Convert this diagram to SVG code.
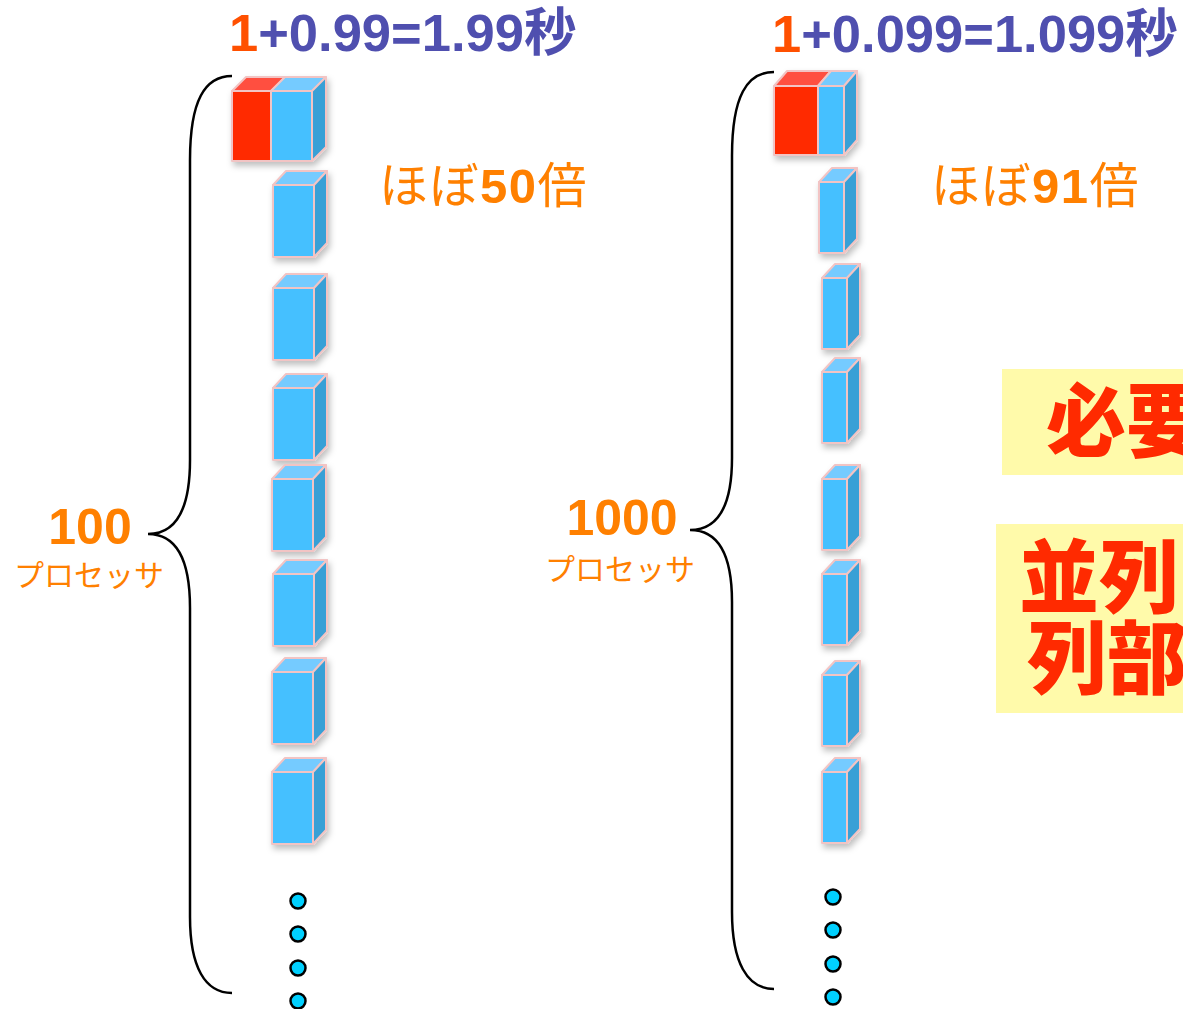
<svg xmlns="http://www.w3.org/2000/svg" width="1183" height="1009" viewBox="0 0 1183 1009">
<defs>
<style>
.bf{fill:#44C0FF;stroke:#F2C4C4;stroke-width:2;stroke-linejoin:round}
.bt{fill:#74CBFF;stroke:#F2C4C4;stroke-width:2;stroke-linejoin:round}
.bs{fill:#38A0D6;stroke:#F2C4C4;stroke-width:2;stroke-linejoin:round}
.rf{fill:#FF2A00;stroke:#F2C4C4;stroke-width:2;stroke-linejoin:round}
.rt{fill:#FF5040;stroke:#F2C4C4;stroke-width:2;stroke-linejoin:round}
.brace{fill:none;stroke:#000;stroke-width:2.5}
.dot{fill:#00D0FF;stroke:#000;stroke-width:2.5}
.hd{font-family:"Liberation Sans","Noto Sans CJK JP",sans-serif;font-weight:bold;font-size:52.5px;fill:#4F4FAF}
.one{fill:#FF5000}
.or{font-family:"Liberation Sans","Noto Sans CJK JP",sans-serif;fill:#FF8000}
.big{font-family:"Noto Sans CJK JP",sans-serif;font-weight:900;font-size:80px;fill:#FF2A00}
</style>
<filter id="sh" x="-30%" y="-30%" width="160%" height="160%">
<feDropShadow dx="2" dy="4" stdDeviation="3" flood-color="#000" flood-opacity="0.25"/>
</filter>
<g id="boxL">
<polygon class="bt" points="0,0 13,-14 54,-14 41,0"/>
<polygon class="bs" points="41,0 54,-14 54,58 41,72"/>
<rect class="bf" x="0" y="0" width="41" height="72"/>
</g>
<g id="boxR">
<polygon class="bt" points="0,0 13,-14 38,-14 25,0"/>
<polygon class="bs" points="25,0 38,-14 38,57 25,71"/>
<rect class="bf" x="0" y="0" width="25" height="71"/>
</g>
</defs>
<rect width="1183" height="1009" fill="#fff"/>

<g id="header-left"><text class="hd" x="229" y="51"><tspan class="one">1</tspan>+0.99=1.99秒</text></g>
<g id="header-right"><text class="hd" x="772" y="52"><tspan class="one">1</tspan>+0.099=1.099秒</text></g>

<g id="label-50"><text class="or" x="379" y="203" font-size="49" letter-spacing="1.5">ほぼ<tspan font-weight="bold">50</tspan>倍</text></g>
<g id="label-91"><text class="or" x="931" y="203" font-size="49" letter-spacing="1.5">ほぼ<tspan font-weight="bold">91</tspan>倍</text></g>

<g id="label-100"><text class="or" x="90" y="544" font-size="50" font-weight="bold" text-anchor="middle">100</text>
<text class="or" x="89" y="586" font-size="30" text-anchor="middle">プロセッサ</text></g>
<g id="label-1000"><text class="or" x="622" y="535" font-size="50" font-weight="bold" text-anchor="middle">1000</text>
<text class="or" x="620" y="580" font-size="30" text-anchor="middle">プロセッサ</text></g>

<g id="connectors">
<path class="brace" d="M232,76 C205,76 190,100 190,160 L190,460 C190,510 176,534 148,534 C176,534 190,558 190,608 L190,917 C190,967 205,993 232,993"/>
<path class="brace" d="M774,72 C747,72 732,96 732,156 L732,458 C732,506 718,530 690,530 C718,530 732,554 732,602 L732,912 C732,962 747,989 774,989"/>
</g>

<g id="proc-left-1" filter="url(#sh)">
<polygon class="rt" points="232,91 246,77 285,77 271,91"/>
<polygon class="bt" points="271,91 285,77 326,77 312,91"/>
<polygon class="bs" points="312,91 326,77 326,147 312,161"/>
<rect class="rf" x="232" y="91" width="39" height="70"/>
<rect class="bf" x="271" y="91" width="41" height="70"/>
</g>
<g id="proc-left-2" filter="url(#sh)"><use href="#boxL" x="273" y="185"/></g>
<g id="proc-left-3" filter="url(#sh)"><use href="#boxL" x="273" y="288"/></g>
<g id="proc-left-4" filter="url(#sh)"><use href="#boxL" x="273" y="388"/></g>
<g id="proc-left-5" filter="url(#sh)"><use href="#boxL" x="272" y="479"/></g>
<g id="proc-left-6" filter="url(#sh)"><use href="#boxL" x="273" y="574"/></g>
<g id="proc-left-7" filter="url(#sh)"><use href="#boxL" x="272" y="672"/></g>
<g id="proc-left-8" filter="url(#sh)"><use href="#boxL" x="272" y="772"/></g>

<g id="proc-right-1" filter="url(#sh)">
<polygon class="rt" points="774,86 787,71 831,71 818,86"/>
<polygon class="bt" points="818,86 831,71 857,71 844,86"/>
<polygon class="bs" points="844,86 857,71 857,140 844,155"/>
<rect class="rf" x="774" y="86" width="44" height="69"/>
<rect class="bf" x="818" y="86" width="26" height="69"/>
</g>
<g id="proc-right-2" filter="url(#sh)"><use href="#boxR" x="819" y="182"/></g>
<g id="proc-right-3" filter="url(#sh)"><use href="#boxR" x="822" y="278"/></g>
<g id="proc-right-4" filter="url(#sh)"><use href="#boxR" x="822" y="372"/></g>
<g id="proc-right-5" filter="url(#sh)"><use href="#boxR" x="822" y="479"/></g>
<g id="proc-right-6" filter="url(#sh)"><use href="#boxR" x="822" y="574"/></g>
<g id="proc-right-7" filter="url(#sh)"><use href="#boxR" x="822" y="675"/></g>
<g id="proc-right-8" filter="url(#sh)"><use href="#boxR" x="822" y="772"/></g>

<g id="dots-left">
<circle class="dot" cx="298" cy="901" r="7.5"/>
<circle class="dot" cx="298" cy="934" r="7.5"/>
<circle class="dot" cx="298" cy="968" r="7.5"/>
<circle class="dot" cx="298" cy="1001" r="7.5"/>
</g>
<g id="dots-right">
<circle class="dot" cx="833" cy="897" r="7.5"/>
<circle class="dot" cx="833" cy="930" r="7.5"/>
<circle class="dot" cx="833" cy="964" r="7.5"/>
<circle class="dot" cx="833" cy="997" r="7.5"/>
</g>

<g id="note-1">
<rect x="1002" y="369" width="190" height="106" fill="#FFFAAA"/>
<text class="big" x="1046" y="450">必要</text>
</g>
<g id="note-2">
<rect x="996" y="524" width="196" height="189" fill="#FFFAAA"/>
<text class="big" x="1019" y="606">並列</text>
<text class="big" x="1027" y="687">列部</text>
</g>
</svg>
